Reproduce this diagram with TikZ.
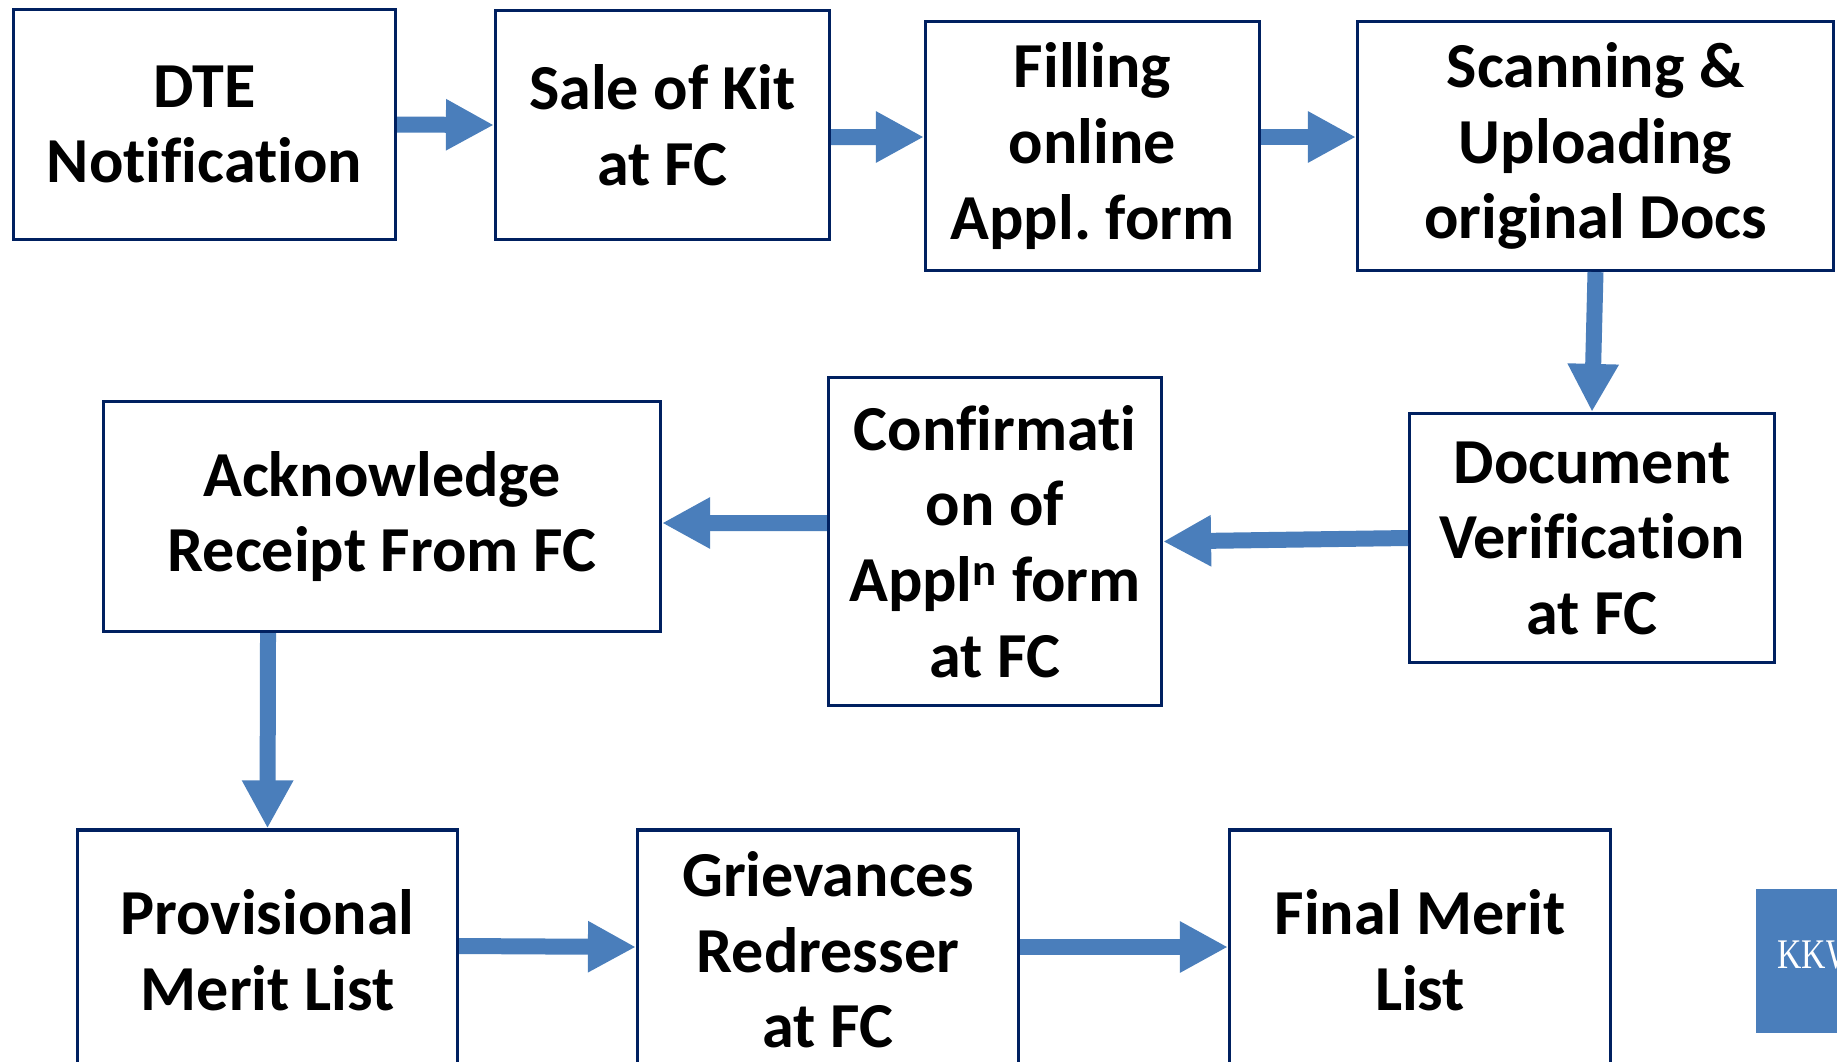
\documentclass[tikz,border=0pt]{standalone}
\usepackage{fontspec}
\setmainfont{Carlito}[Ligatures=NoCommon]
\newfontfamily\logofont{Liberation Serif}
\usetikzlibrary{arrows.meta}
\frenchspacing

\definecolor{boxnavy}{RGB}{0,32,96}
\definecolor{flowblue}{RGB}{74,126,187}

\begin{document}
\begin{tikzpicture}[x=0.02cm, y=-0.02cm,
  procbox/.style={draw=boxnavy, line width=0.065cm, fill=white, inner sep=0pt,
    align=center, font=\fontsize{36.5}{43}\selectfont\bfseries},
  flowarrow/.style={draw=flowblue, line width=0.32cm,
    -{Triangle[length=0.96cm, width=0.96cm]}}]

  % Page
  \useasboundingbox (0,0) rectangle (1837,1062);
  \clip (0,0) rectangle (1837,1062);

  % Top row
  \node[procbox, minimum width=7.64cm, minimum height=4.60cm] (dte) at (204.5,124.5) {DTE\\Notification};
  \node[procbox, minimum width=6.68cm, minimum height=4.58cm] (kit) at (662.5,125) {Sale of Kit\\at FC};
  \node[procbox, minimum width=6.68cm, minimum height=4.98cm] (fill) at (1092.5,146) {Filling\\online\\Appl. form};
  \node[procbox, minimum width=9.52cm, minimum height=4.98cm] (scan) at (1595.5,146) {Scanning \&\\Uploading\\original Docs};

  % Middle row
  \node[procbox, minimum width=7.30cm, minimum height=4.98cm] (verify) at (1592,538) {Document\\Verification\\at FC};
  \node[procbox, minimum width=6.66cm, minimum height=6.56cm] (confirm) at (995,541.5) {Confirmati\\on of\\Appl\textsuperscript{n} form\\at FC};
  \node[procbox, minimum width=11.14cm, minimum height=4.60cm] (ack) at (382,516.5) {Acknowledge\\Receipt From FC};

  % Bottom row (cut by the page edge)
  \node[procbox, minimum width=7.60cm, minimum height=4.80cm] (prov) at (267.5,950) {Provisional\\Merit List};
  \node[procbox, minimum width=7.62cm, minimum height=4.80cm] (griev) at (828,950) {Grievances\\Redresser\\at FC};
  \node[procbox, minimum width=7.62cm, minimum height=4.80cm] (final) at (1420,950) {Final Merit\\List};

  % Logo corner
  \fill[flowblue] (1756,889) rectangle (1900,1033);
  \node[anchor=base west, inner sep=0pt, text=white, xscale=0.8, transform shape,
    font=\logofont\fontsize{24}{24}\selectfont] (logo) at (1777,968) {KKW};

  % Flow
  \draw[flowarrow] (dte.east) -- (kit.west);
  \draw[flowarrow] ([yshift=-0.24cm]kit.east) -- ([yshift=0.18cm]fill.west);
  \draw[flowarrow] ([yshift=0.18cm]fill.east) -- ([yshift=0.18cm]scan.west);
  \draw[flowarrow] (scan.south) -- (verify.north);
  \draw[flowarrow] (verify.west) -- (confirm.east);
  \draw[flowarrow] ([yshift=0.37cm]confirm.west) -- ([yshift=-0.13cm]ack.east);
  \draw[flowarrow] ([xshift=-2.28cm]ack.south) -- (prov.north);
  \draw[flowarrow] ([yshift=0.08cm]prov.east) -- ([yshift=0.06cm]griev.west);
  \draw[flowarrow] ([yshift=0.06cm]griev.east) -- ([yshift=0.06cm]final.west);
\end{tikzpicture}
\end{document}
